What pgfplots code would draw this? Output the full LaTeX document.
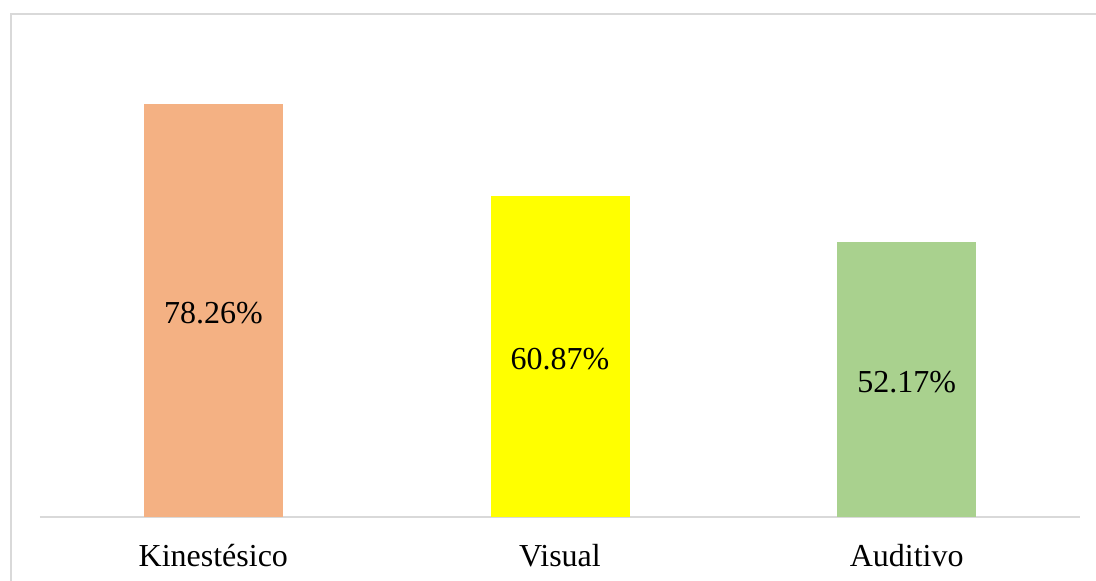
\documentclass[border=0pt]{standalone}
\usepackage{pgfplots}
\pgfplotsset{compat=1.18}
\usepackage{fontspec}
\setmainfont{Liberation Serif}

\definecolor{kin}{HTML}{F4B183}
\definecolor{vis}{HTML}{FFFF00}
\definecolor{aud}{HTML}{A9D18E}
\definecolor{gridgray}{HTML}{D9D9D9}

\begin{document}
\begin{tikzpicture}
  \clip (0,0) rectangle (548pt,290.5pt);
  \useasboundingbox (0,0) rectangle (548pt,290.5pt);
  \draw[gridgray, line width=1pt] (5.25pt,-20pt) rectangle (570pt,283.25pt);
  \begin{axis}[
    at={(20pt,32pt)}, anchor=south west,
    scale only axis,
    width=520pt, height=237.47pt,
    xmin=-0.5, xmax=2.5,
    ymin=0, ymax=90,
    ybar, bar width=69.5pt, bar shift=0pt,
    axis y line=none,
    axis x line*=bottom,
    x axis line style={gridgray, line width=1pt, -},
    xtick={0,1,2},
    xticklabels={Kinestésico, Visual, Auditivo},
    major tick length=0pt,
    xticklabel style={font=\fontsize{16}{19}\selectfont, yshift=-10pt},
    /pgf/number format/assume math mode=true,
    nodes near coords={\pgfmathprintnumber[fixed,precision=2,zerofill,assume math mode=true]{\pgfplotspointmeta}\%},
    visualization depends on={y \as \rawy},
    nodes near coords style={anchor=center, font=\fontsize{16}{19}\selectfont,
      shift={(axis direction cs:0,-\rawy/2)}, yshift=-1.5pt},
  ]
    \addplot[fill=kin, draw=none] coordinates {(0,78.26)};
    \addplot[fill=vis, draw=none] coordinates {(1,60.87)};
    \addplot[fill=aud, draw=none] coordinates {(2,52.17)};
  \end{axis}
\end{tikzpicture}
\end{document}
